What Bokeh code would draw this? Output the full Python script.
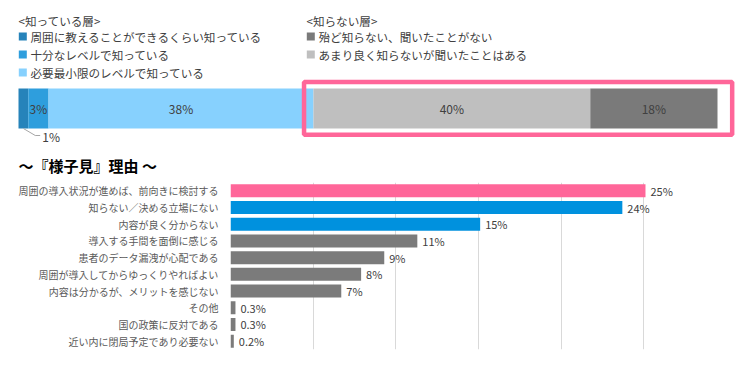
from bokeh.plotting import figure
from bokeh.layouts import column
from bokeh.models import Range1d, FactorRange, ColumnDataSource, Grid, FixedTicker
from bokeh.core.properties import value
from bokeh.embed import file_html
from bokeh.resources import INLINE

FONT = "Noto Sans CJK JP"

# ---- top: awareness stacked bar ----
seg_names = ["周囲に教えることができるくらい知っている", "十分なレベルで知っている",
             "必要最小限のレベルで知っている", "あまり良く知らないが聞いたことはある",
             "殆ど知らない、聞いたことがない"]
seg_values = [1.4, 2.9, 37.9, 39.6, 18.2]
seg_colors = ["#2683BA", "#2E9EDD", "#87D1FE", "#BFBFBF", "#7A7A7A"]
known_title = "<知っている層>"
unknown_title = "<知らない層>"
known_idx = [0, 1, 2]
unknown_idx = [4, 3]

# ---- bottom: reasons ----
reasons = ["周囲の導入状況が進めば、前向きに検討する", "知らない／決める立場にない",
           "内容が良く分からない", "導入する手間を面倒に感じる", "患者のデータ漏洩が心配である",
           "周囲が導入してからゆっくりやればよい", "内容は分かるが、メリットを感じない",
           "その他", "国の政策に反対である", "近い内に閉局予定であり必要ない"]
reason_values = [25.1, 23.7, 15.1, 11.3, 9.3, 7.9, 6.7, 0.3, 0.3, 0.2]
reason_colors = ["#FF6699", "#0091DE", "#0091DE"] + ["#7B7B7B"] * 7
section_title = "～『様子見』理由 ～"
x_ticks = [0, 5, 10, 15, 20, 25, 30]

W = 734
TOP_H = 167
BOT_H = 182

top = figure(width=W, height=TOP_H, output_backend="svg", toolbar_location=None,
             x_range=Range1d(0, W), y_range=Range1d(TOP_H, 0),
             x_axis_location=None, y_axis_location=None,
             min_border=0, outline_line_color=None, frame_align=False)
top.grid.visible = False

bar_left_px, bar_right_px = 10, 709
px_per = (bar_right_px - bar_left_px) / 100.0
top.extra_x_ranges = {"pct": Range1d(-bar_left_px / px_per, (W - bar_left_px) / px_per)}

lefts, rights = [], []
acc = 0.0
for v in seg_values:
    lefts.append(acc)
    acc += v
    rights.append(acc)
centers = [(l + r) / 2 for l, r in zip(lefts, rights)]
labels = [f"{round(v)}%" for v in seg_values]

src = ColumnDataSource(dict(left=lefts, right=rights, color=seg_colors,
                            y=[100] * 5, c=centers, lab=labels))
top.hbar(y="y", left="left", right="right", height=40, color="color",
         line_color=None, source=src, x_range_name="pct")

inside = ColumnDataSource(dict(x=centers[1:], y=[100] * 4, t=labels[1:]))
top.text(x="x", y="y", text="t", source=inside, x_range_name="pct",
         text_align="center", text_baseline="middle", text_font=value(FONT),
         text_font_size="12px", text_color="#404040")

# leader line for the small first segment
c0 = centers[0]
top.line(x=[c0, c0 + 1.7, c0 + 2.4], y=[120, 127, 127], x_range_name="pct",
         line_color="#A6A6A6", line_width=1)
top.text(x=[c0 + 2.7], y=[128], text=[labels[0]], x_range_name="pct",
         text_align="left", text_baseline="middle", text_font=value(FONT),
         text_font_size="12px", text_color="#404040")

# highlight box around the "unknown" segments
top.quad(left=[lefts[3] - 1.35], right=[100 + 2.1], top=[73.5], bottom=[126.3],
         x_range_name="pct", fill_color=None, line_color="#FF6699", line_width=4.5)

# legends
def legend(x0, title, idxs):
    top.text(x=[x0], y=[12], text=[title], text_align="left", text_baseline="middle",
             text_font=value(FONT), text_font_size="11.6px", text_color="#404040")
    ys = [28 + 18 * k for k in range(len(idxs))]
    top.rect(x=[x0 + 4.3] * len(idxs), y=ys, width=8, height=8,
             color=[seg_colors[i] for i in idxs], line_color=None)
    top.text(x=[x0 + 12] * len(idxs), y=ys, text=[seg_names[i] for i in idxs],
             text_align="left", text_baseline="middle", text_font=value(FONT),
             text_font_size="11.6px", text_color="#404040")

legend(10, known_title, known_idx)
legend(298, unknown_title, unknown_idx)

top.text(x=[10], y=[157], text=[section_title], text_align="left", text_baseline="middle",
         text_font=value(FONT), text_font_size="15px", text_font_style="bold",
         text_color="#000000")

# ---- bottom figure ----
bot = figure(width=W, height=BOT_H, output_backend="svg", toolbar_location=None,
             x_range=Range1d(0, 30), y_range=FactorRange(factors=reasons[::-1]),
             x_axis_location=None, y_axis_location="left",
             min_border_left=222, min_border_right=16, min_border_top=7,
             min_border_bottom=8, outline_line_color=None, frame_align=False)
bot.grid.visible = False
bot.add_layout(Grid(dimension=0, ticker=FixedTicker(ticks=x_ticks),
                    grid_line_color="#D9D9D9", grid_line_width=1))

val_labels = [f"{v:.1f}%" if v < 1 else f"{round(v)}%" for v in reason_values]
bsrc = ColumnDataSource(dict(y=reasons, v=reason_values, color=reason_colors, lab=val_labels))
bot.hbar(y="y", right="v", left=0, height=0.78, color="color", line_color=None, source=bsrc)
bot.text(x="v", y="y", text="lab", source=bsrc, x_offset=5, text_align="left",
         text_baseline="middle", text_font=value(FONT), text_font_size="11px",
         text_color="#404040")

ax = bot.yaxis[0]
ax.axis_line_color = None
ax.major_tick_line_color = None
ax.minor_tick_line_color = None
ax.major_tick_out = 0
ax.major_tick_in = 0
ax.major_label_standoff = 12
ax.major_label_text_font = FONT
ax.major_label_text_font_size = "10px"
ax.major_label_text_color = "#595959"

layout = column(top, bot, spacing=0, margin=(8, 0, 0, 8))
open("out.html", "w").write(file_html(layout, INLINE))
